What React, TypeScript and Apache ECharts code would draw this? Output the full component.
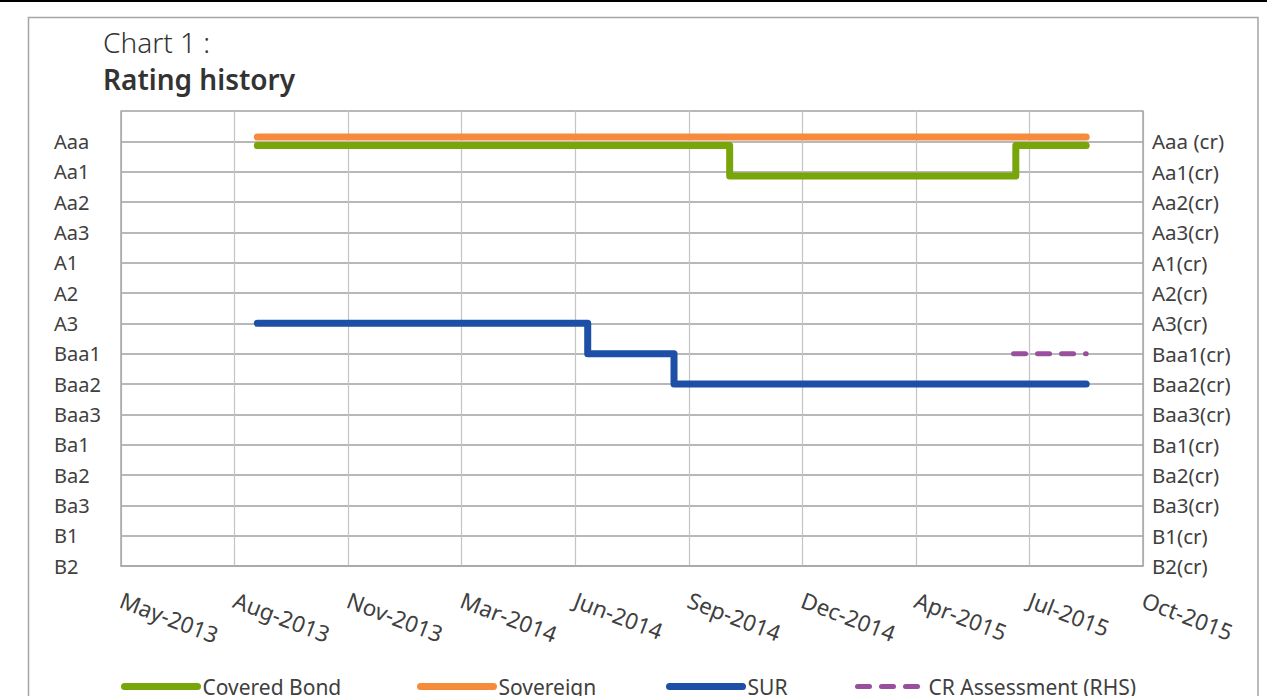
import React, { useEffect, useRef } from "react";
import * as echarts from "echarts";

// Rating scale, bottom (index 0) to top
const ratingScale = ["B2", "B1", "Ba3", "Ba2", "Ba1", "Baa3", "Baa2", "Baa1", "A3", "A2", "A1", "Aa3", "Aa2", "Aa1", "Aaa"];
const rhsLabels = ["B2(cr)", "B1(cr)", "Ba3(cr)", "Ba2(cr)", "Ba1(cr)", "Baa3(cr)", "Baa2(cr)", "Baa1(cr)", "A3(cr)", "A2(cr)", "A1(cr)", "Aa3(cr)", "Aa2(cr)", "Aa1(cr)", "Aaa (cr)"];

// x axis: date axis, ticks every 100 days
const xAxisStart = "2013-05-06";
const xAxisEnd = "2015-10-23";
const xTickStepDays = 100;

// series (rating changes; each value holds until the next date)
const coveredBondDates = ["2013-09-03", "2014-10-24", "2015-07-03", "2015-09-03"];
const coveredBondRatings = ["Aaa", "Aa1", "Aaa", "Aaa"];
const sovereignDates = ["2013-09-03", "2015-09-03"];
const sovereignRatings = ["Aaa", "Aaa"];
const surDates = ["2013-09-03", "2014-06-21", "2014-09-05", "2015-09-03"];
const surRatings = ["A3", "Baa1", "Baa2", "Baa2"];
const crDates = ["2015-07-01", "2015-09-03"];
const crRatings = ["Baa1(cr)", "Baa1(cr)"];

const MONTHS = ["Jan", "Feb", "Mar", "Apr", "May", "Jun", "Jul", "Aug", "Sep", "Oct", "Nov", "Dec"];
const EPOCH = Date.UTC(1899, 11, 30);
const DAY = 86400000;

function toSerial(iso: string): number {
  const [y, m, d] = iso.split("-").map(Number);
  return Math.round((Date.UTC(y, m - 1, d) - EPOCH) / DAY);
}
function serialLabel(v: number): string {
  const dt = new Date(EPOCH + v * DAY);
  return MONTHS[dt.getUTCMonth()] + "-" + dt.getUTCFullYear();
}

const FONT = "'Noto Sans', 'Open Sans', sans-serif";
const TXT = "#404040";

export default function App() {
  const ref = useRef<HTMLDivElement>(null);
  useEffect(() => {
    if (!ref.current) return;
    const chart = echarts.init(ref.current, undefined, { renderer: "svg" });

    const mk = (dates: string[], ratings: string[], scale: string[], nudge: number) =>
      dates.map((d, i) => [toSerial(d), scale.indexOf(ratings[i]) + nudge]);

    const legendCommon = {
      itemWidth: 73,
      itemHeight: 14,
      padding: 0,
      selectedMode: false,
      top: 676,
      textStyle: { fontSize: 21, color: TXT, fontFamily: FONT },
      lineStyle: { width: "inherit" },
      itemStyle: { opacity: 0 },
    };

    chart.setOption({
      animation: false,
      backgroundColor: "#ffffff",
      graphic: [
        { type: "rect", shape: { x: 0, y: 0, width: 1267, height: 2 }, style: { fill: "#000000" }, silent: true },
        { type: "rect", shape: { x: 28.5, y: 17.5, width: 1229.5, height: 720 }, style: { fill: "none", stroke: "#A5A5A5", lineWidth: 1.5 }, silent: true },
      ],
      title: [
        { text: "Chart 1 :", left: 103, top: 28, padding: 0, textStyle: { fontSize: 28, fontWeight: 300, color: "#333333", fontFamily: FONT } },
        { text: "Rating history", left: 103, top: 65, padding: 0, textStyle: { fontSize: 28, fontWeight: 600, color: "#333333", fontFamily: FONT } },
      ],
      legend: [
        { ...legendCommon, left: 121, data: ["Covered Bond"] },
        { ...legendCommon, left: 417, data: ["Sovereign"] },
        { ...legendCommon, left: 666, data: ["SUR"] },
        { ...legendCommon, left: 855, itemWidth: 66, data: ["CR Assessment (RHS)"] },
      ],
      grid: { left: 121, top: 111, right: 124, bottom: 130, containLabel: false },
      xAxis: {
        type: "value",
        min: toSerial(xAxisStart),
        max: toSerial(xAxisEnd),
        interval: xTickStepDays,
        axisLine: { show: true, lineStyle: { color: "#A6A6A6", width: 1.5 } },
        axisTick: { show: false },
        splitLine: { show: true, lineStyle: { color: "#C4C4C4", width: 1.2 } },
        axisLabel: {
          rotate: -21,
          margin: 33,
          formatter: (v: number) => serialLabel(v),
          fontSize: 22.5,
          color: TXT,
          fontFamily: FONT,
          showMinLabel: true,
          showMaxLabel: true,
        },
      },
      yAxis: [
        {
          type: "value",
          position: "left",
          min: 0,
          max: 15,
          interval: 1,
          axisLine: { show: true, lineStyle: { color: "#A6A6A6", width: 1.5 } },
          axisTick: { show: false },
          splitLine: { show: true, lineStyle: { color: "#A0A0A0", width: 1.5 } },
          axisLabel: {
            formatter: (v: number) => ratingScale[v] ?? "",
            align: "left",
            margin: 67,
            fontSize: 20,
            color: TXT,
            fontFamily: FONT,
          },
        },
        {
          type: "value",
          position: "right",
          min: 0,
          max: 15,
          interval: 1,
          axisLine: { show: true, lineStyle: { color: "#A6A6A6", width: 1.5 } },
          axisTick: { show: false },
          splitLine: { show: false },
          axisLabel: {
            formatter: (v: number) => rhsLabels[v] ?? "",
            margin: 9,
            fontSize: 20.5,
            color: TXT,
            fontFamily: FONT,
          },
        },
      ],
      series: [
        {
          name: "Covered Bond",
          type: "line",
          step: "end",
          symbol: "none",
          data: mk(coveredBondDates, coveredBondRatings, ratingScale, -0.14),
          lineStyle: { color: "#78A50A", width: 7, cap: "round", join: "round" },
          itemStyle: { color: "#78A50A" },
        },
        {
          name: "Sovereign",
          type: "line",
          step: "end",
          symbol: "none",
          data: mk(sovereignDates, sovereignRatings, ratingScale, 0.14),
          lineStyle: { color: "#F68B3C", width: 7, cap: "round", join: "round" },
          itemStyle: { color: "#F68B3C" },
        },
        {
          name: "SUR",
          type: "line",
          step: "end",
          symbol: "none",
          data: mk(surDates, surRatings, ratingScale, 0),
          lineStyle: { color: "#1E4FA7", width: 7, cap: "round", join: "round" },
          itemStyle: { color: "#1E4FA7" },
        },
        {
          name: "CR Assessment (RHS)",
          type: "line",
          step: "end",
          symbol: "none",
          yAxisIndex: 1,
          data: mk(crDates, crRatings, rhsLabels, 0),
          lineStyle: { color: "#9A4F9E", width: 5, type: [12, 12], cap: "round", join: "round" },
          itemStyle: { color: "#9A4F9E" },
        },
      ],
    });
    return () => chart.dispose();
  }, []);

  return <div ref={ref} style={{ position: "absolute", left: 0, top: 0, width: 1267, height: 696 }} />;
}
